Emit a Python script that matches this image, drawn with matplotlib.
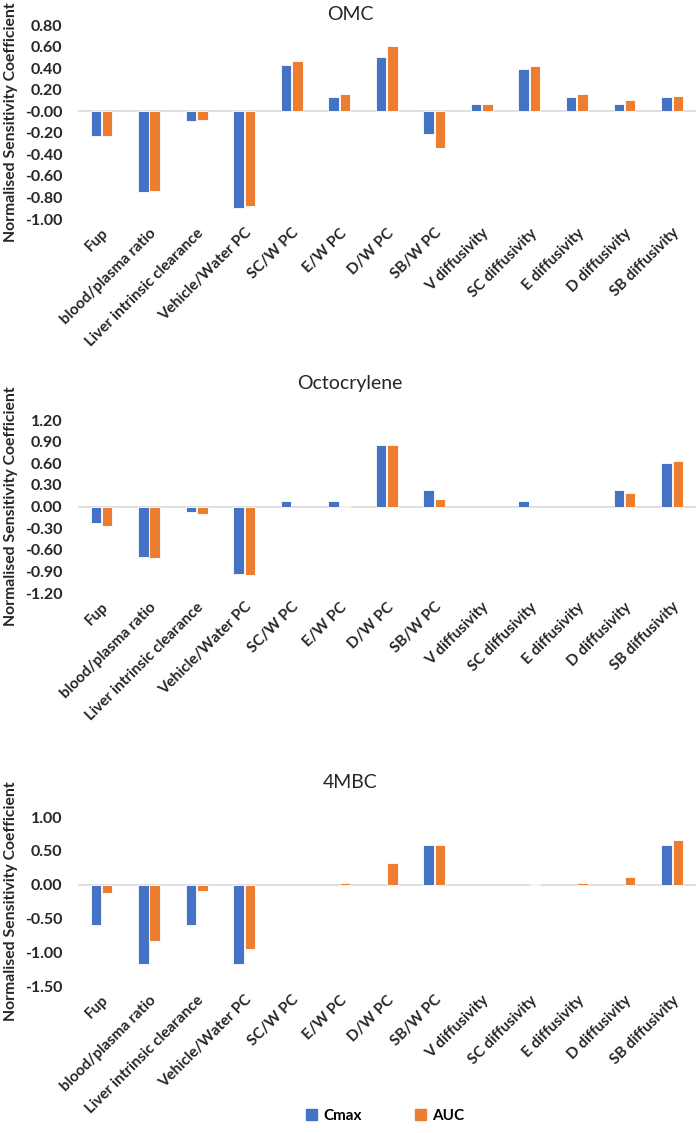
import numpy as np
import matplotlib
matplotlib.use('Agg')
import matplotlib.pyplot as plt
from matplotlib.patches import Patch

plt.rcParams['font.family'] = ['Lato', 'DejaVu Sans']

categories = ['Fup', 'blood/plasma ratio', 'Liver intrinsic clearance', 'Vehicle/Water PC',
              'SC/W PC', 'E/W PC', 'D/W PC', 'SB/W PC', 'V diffusivity', 'SC diffusivity',
              'E diffusivity', 'D diffusivity', 'SB diffusivity']

omc_cmax = [-0.23, -0.75, -0.09, -0.90, 0.43, 0.13, 0.50, -0.21, 0.07, 0.39, 0.13, 0.07, 0.13]
omc_auc = [-0.23, -0.74, -0.08, -0.88, 0.47, 0.16, 0.61, -0.34, 0.07, 0.42, 0.16, 0.10, 0.14]

octo_cmax = [-0.23, -0.70, -0.08, -0.93, 0.07, 0.07, 0.85, 0.23, 0.0, 0.07, 0.0, 0.23, 0.61]
octo_auc = [-0.27, -0.72, -0.11, -0.95, 0.0, 0.01, 0.85, 0.10, 0.0, 0.0, 0.0, 0.19, 0.63]

mbc_cmax = [-0.59, -1.18, -0.59, -1.18, 0.0, 0.0, 0.0, 0.58, 0.0, 0.0, 0.0, 0.0, 0.58]
mbc_auc = [-0.12, -0.84, -0.10, -0.95, 0.0, 0.03, 0.32, 0.58, 0.0, 0.01, 0.03, 0.11, 0.66]

titles = ['OMC', 'Octocrylene', '4MBC']
yticks_list = [np.arange(-1.0, 0.81, 0.2), np.arange(-1.2, 1.21, 0.3), np.arange(-1.5, 1.01, 0.5)]
rects = [[0.111, 0.8067, 0.883, 0.1712],
         [0.111, 0.4766, 0.883, 0.1527],
         [0.111, 0.1297, 0.883, 0.1492]]
title_y = [15, 383, 783]

c_cmax = '#4472C4'
c_auc = '#ED7D31'
txt = '#262626'

fig = plt.figure(figsize=(7, 11.33), dpi=100)
x = np.arange(len(categories))
w = 0.22

data = [(omc_cmax, omc_auc), (octo_cmax, octo_auc), (mbc_cmax, mbc_auc)]
for i in range(3):
    ax = fig.add_axes(rects[i])
    cm, au = data[i]
    # no white outline on empty bars so the zero line stays unbroken
    ec_cm = ['white' if v != 0 else 'none' for v in cm]
    ec_au = ['white' if v != 0 else 'none' for v in au]
    ax.bar(x - w / 2 - 0.01, cm, w, color=c_cmax, edgecolor=ec_cm, linewidth=0.6, zorder=3)
    ax.bar(x + w / 2 + 0.01, au, w, color=c_auc, edgecolor=ec_au, linewidth=0.6, zorder=3)
    ax.axhline(0, color='#D9D9D9', lw=1.2, zorder=2)
    yt = yticks_list[i]
    ax.set_ylim(yt[0], yt[-1])
    ax.set_yticks(yt)
    ax.set_yticklabels(['%.2f' % v for v in yt], fontsize=11.5, fontweight='bold', color=txt)
    ax.set_xlim(-0.5, len(categories) - 0.5)
    ax.set_xticks(x)
    ax.set_xticklabels(categories, rotation=45, ha='right', rotation_mode='anchor',
                       fontsize=11, fontweight='bold', color=txt)
    ax.tick_params(axis='x', length=0, pad=5)
    ax.tick_params(axis='y', length=0, pad=11)
    for s in ax.spines.values():
        s.set_visible(False)
    ax.set_ylabel('Normalised Sensitivity Coefficient', fontsize=11.3, fontweight='bold',
                  color=txt)
    ax.yaxis.set_label_coords(-0.096, 0.5)
    fig.text(0.5, 1 - title_y[i] / 1133, titles[i], ha='center', va='center',
             fontsize=14, color=txt)

handles = [Patch(color=c_cmax, label='Cmax'), Patch(color=c_auc, label='AUC')]
fig.legend(handles=handles, loc='center', bbox_to_anchor=(0.55, 1 - 1116 / 1133), ncol=2,
           frameon=False, prop={'size': 11, 'weight': 'bold'}, handlelength=0.7,
           handleheight=0.7, columnspacing=3.5, handletextpad=0.4)

plt.savefig('out.png', dpi=100)
